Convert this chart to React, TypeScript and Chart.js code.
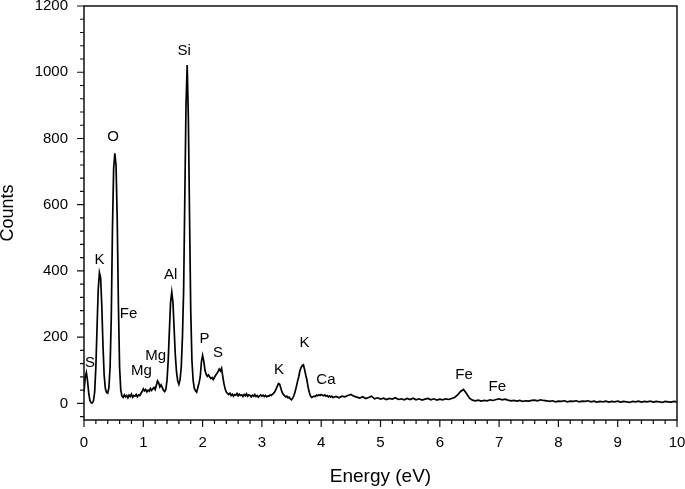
import React, { useEffect, useRef } from 'react';
import { Chart, registerables } from 'chart.js';

Chart.register(...registerables);

// Spectrum: energy (eV) and counts
const energy = [
  0, 0.02, 0.04, 0.06, 0.08, 0.1, 0.12, 0.14, 0.16, 0.18,
  0.2, 0.22, 0.24, 0.26, 0.28, 0.3, 0.32, 0.34, 0.36, 0.38,
  0.4, 0.42, 0.44, 0.46, 0.48, 0.5, 0.52, 0.54, 0.56, 0.58,
  0.6, 0.62, 0.64, 0.66, 0.68, 0.7, 0.72, 0.74, 0.76, 0.78,
  0.8, 0.82, 0.84, 0.86, 0.88, 0.9, 0.92, 0.94, 0.96, 0.98,
  1.0, 1.02, 1.04, 1.06, 1.08, 1.1, 1.12, 1.14, 1.16, 1.18,
  1.2, 1.22, 1.24, 1.26, 1.28, 1.3, 1.32, 1.34, 1.36, 1.38,
  1.4, 1.42, 1.44, 1.46, 1.48, 1.5, 1.52, 1.54, 1.56, 1.58,
  1.6, 1.62, 1.64, 1.66, 1.68, 1.7, 1.72, 1.74, 1.76, 1.78,
  1.8, 1.82, 1.84, 1.86, 1.88, 1.9, 1.92, 1.94, 1.96, 1.98,
  2.0, 2.02, 2.04, 2.06, 2.08, 2.1, 2.12, 2.14, 2.16, 2.18,
  2.2, 2.22, 2.24, 2.26, 2.28, 2.3, 2.32, 2.34, 2.36, 2.38,
  2.4, 2.42, 2.44, 2.46, 2.48, 2.5, 2.52, 2.54, 2.56, 2.58,
  2.6, 2.62, 2.64, 2.66, 2.68, 2.7, 2.72, 2.74, 2.76, 2.78,
  2.8, 2.82, 2.84, 2.86, 2.88, 2.9, 2.92, 2.94, 2.96, 2.98,
  3.0, 3.02, 3.04, 3.06, 3.08, 3.1, 3.12, 3.14, 3.16, 3.18,
  3.2, 3.22, 3.24, 3.26, 3.28, 3.3, 3.32, 3.34, 3.36, 3.38,
  3.4, 3.42, 3.44, 3.46, 3.48, 3.5, 3.52, 3.54, 3.56, 3.58,
  3.6, 3.62, 3.64, 3.66, 3.68, 3.7, 3.72, 3.74, 3.76, 3.78,
  3.8, 3.82, 3.84, 3.86, 3.88, 3.9, 3.92, 3.94, 3.96, 3.98,
  4.0, 4.02, 4.04, 4.06, 4.08, 4.1, 4.12, 4.14, 4.16, 4.18,
  4.2,
  4.25, 4.3, 4.35, 4.4, 4.45, 4.5, 4.55, 4.6, 4.65, 4.7,
  4.75, 4.8, 4.85, 4.9, 4.95, 5.0, 5.05, 5.1, 5.15, 5.2,
  5.25, 5.3, 5.35, 5.4, 5.45, 5.5, 5.55, 5.6, 5.65, 5.7,
  5.75, 5.8, 5.85, 5.9, 5.95, 6.0, 6.05, 6.1, 6.15, 6.2,
  6.25, 6.3, 6.35, 6.4, 6.45, 6.5, 6.55, 6.6, 6.65, 6.7,
  6.75, 6.8, 6.85, 6.9, 6.95, 7.0, 7.05, 7.1, 7.15, 7.2,
  7.25, 7.3, 7.35, 7.4, 7.45, 7.5, 7.55, 7.6, 7.65, 7.7,
  7.75, 7.8, 7.85, 7.9, 7.95, 8.0, 8.05, 8.1, 8.15, 8.2,
  8.25, 8.3, 8.35, 8.4, 8.45, 8.5, 8.55, 8.6, 8.65, 8.7,
  8.75, 8.8, 8.85, 8.9, 8.95, 9.0, 9.05, 9.1, 9.15, 9.2,
  9.25, 9.3, 9.35, 9.4, 9.45, 9.5, 9.55, 9.6, 9.65, 9.7,
  9.75, 9.8, 9.85, 9.9, 9.95, 10.0,
];

const counts = [
  35, 78, 93, 68, 30, 9, 2, 1, 8, 35,
  110, 230, 345, 395, 380, 295, 175, 85, 45, 33,
  31, 48, 110, 260, 530, 710, 755, 720, 560, 300,
  110, 40, 22, 18, 26, 20, 24, 17, 25, 21,
  28, 19, 24, 22, 27, 20, 26, 24, 30, 36,
  44, 38, 42, 35, 40, 37, 45, 39, 44, 48,
  42, 55, 68, 62, 50, 56, 48, 40, 36, 42,
  70, 130, 220, 305, 336, 305, 225, 145, 95, 68,
  58, 72, 110, 200, 340, 620, 900, 1022, 860, 560,
  280, 130, 70, 46, 38, 34, 48, 62, 80, 125,
  145, 128, 100, 88, 82, 86, 80, 75, 78, 72,
  79, 85, 90, 96, 104, 98, 106, 82, 60, 44,
  34, 30, 27, 31, 24, 28, 22, 27, 25, 30,
  23, 28, 24, 26, 21, 27, 23, 29, 22, 26,
  24, 20, 25, 22, 27, 21, 24, 19, 23, 26,
  22, 25, 21, 24, 20, 23, 22, 26, 24, 28,
  31, 36, 44, 52, 60, 58, 46, 34, 27, 24,
  20, 22, 17, 19, 14, 11, 16, 24, 35, 50,
  66, 80, 98, 108, 115, 117, 102, 85, 70, 48,
  33, 22, 18, 20, 22, 21, 25, 23, 26, 24,
  27, 25, 23, 26, 22, 24, 20, 23, 19, 22,
  18,
  21, 17, 22, 20, 24, 27, 22, 19, 16, 20,
  15, 18, 22, 14, 17, 13, 16, 12, 15, 13,
  17, 12, 14, 11, 15, 12, 16, 11, 14, 10,
  13, 15, 11, 14, 10, 13, 11, 14, 12, 15,
  18, 26, 36, 42, 30, 16, 10, 8, 10, 7,
  9, 8, 11, 9, 12, 14, 11, 13, 10, 8,
  9, 7, 9, 6, 8, 7, 9, 10, 8, 11,
  9, 8, 6, 8, 5, 7, 6, 8, 5, 7,
  6, 8, 5, 7, 6, 8, 5, 7, 4, 6,
  5, 7, 4, 6, 5, 7, 4, 6, 5, 3,
  6, 5, 7, 4, 6, 5, 7, 4, 6, 5,
  3, 6, 5, 4, 6, 5,
];

// Peak annotations (element symbol, energy, counts at label centre)
const peakLabels = ['S', 'K', 'O', 'Fe', 'Mg', 'Mg', 'Al', 'Si', 'P', 'S', 'K', 'K', 'Ca', 'Fe', 'Fe'];
const peakLabelEnergy = [0.1, 0.26, 0.49, 0.75, 0.97, 1.21, 1.46, 1.69, 2.03, 2.26, 3.29, 3.72, 4.08, 6.41, 6.97];
const peakLabelCounts = [124, 434, 806, 271, 98, 143, 387, 1066, 195, 152, 100, 182, 72, 85, 49];

// Axes
const xTickValues = [0, 1, 2, 3, 4, 5, 6, 7, 8, 9, 10];
const yTickValues = [0, 200, 400, 600, 800, 1000, 1200];
const xMin = 0;
const xMax = 10;
const yMin = -50;
const yMax = 1200;
const xMinorStep = 0.2;
const yMinorStep = 40;

const FONT = "'Liberation Sans', Arial, Helvetica, sans-serif";

export default function App() {
  const ref = useRef<HTMLCanvasElement>(null);

  useEffect(() => {
    const canvas = ref.current;
    if (!canvas) return;

    const points = energy.map((e, i) => ({ x: e, y: counts[i] }));

    const framePlugin = {
      id: 'frameTicks',
      afterDatasetsDraw(chart: any) {
        const { ctx, chartArea: a, scales } = chart;
        const xs = scales.x;
        const ys = scales.y;
        ctx.save();
        ctx.strokeStyle = '#111';
        ctx.lineWidth = 1.2;
        ctx.beginPath();
        const nx = Math.round((xMax - xMin) / xMinorStep);
        for (let i = 0; i <= nx; i++) {
          const v = xMin + i * xMinorStep;
          const major = Math.abs(v - Math.round(v)) < 1e-6;
          const px = xs.getPixelForValue(v);
          ctx.moveTo(px, a.bottom);
          ctx.lineTo(px, a.bottom + (major ? 7 : 4));
        }
        for (let v = Math.ceil(yMin / yMinorStep) * yMinorStep; v <= yMax; v += yMinorStep) {
          const major = v % 200 === 0;
          const py = ys.getPixelForValue(v);
          ctx.moveTo(a.left, py);
          ctx.lineTo(a.left - (major ? 7 : 4), py);
        }
        ctx.stroke();
        ctx.lineWidth = 1.5;
        ctx.strokeRect(a.left, a.top, a.right - a.left, a.bottom - a.top);
        ctx.fillStyle = '#000';
        ctx.font = `15px ${FONT}`;
        ctx.textAlign = 'center';
        ctx.textBaseline = 'middle';
        peakLabels.forEach((t, i) => {
          ctx.fillText(t, xs.getPixelForValue(peakLabelEnergy[i]), ys.getPixelForValue(peakLabelCounts[i]));
        });
        ctx.restore();
      },
    };

    const chart = new Chart(canvas, {
      type: 'line',
      data: {
        datasets: [
          {
            data: points,
            borderColor: '#000',
            borderWidth: 1.7,
            pointRadius: 0,
            fill: false,
            tension: 0,
          },
        ],
      },
      options: {
        animation: false,
        responsive: false,
        devicePixelRatio: 1,
        layout: { padding: { left: 0, right: 8, top: 6, bottom: 0 } },
        plugins: { legend: { display: false }, tooltip: { enabled: false } },
        scales: {
          x: {
            type: 'linear',
            min: xMin,
            max: xMax,
            afterBuildTicks: (s: any) => {
              s.ticks = xTickValues.map((v) => ({ value: v }));
            },
            afterFit: (s: any) => {
              s.height = 69;
              s.paddingLeft = 0;
              s.paddingRight = 0;
            },
            grid: { display: false, drawTicks: false },
            border: { display: false },
            ticks: {
              color: '#000',
              font: { family: FONT, size: 15 },
              padding: 14,
              maxRotation: 0,
              autoSkip: false,
              callback: (v: any) => String(v),
            },
            title: {
              display: true,
              text: 'Energy (eV)',
              color: '#000',
              font: { family: FONT, size: 19 },
              padding: { top: 0, bottom: 1 },
            },
          },
          y: {
            type: 'linear',
            min: yMin,
            max: yMax,
            afterBuildTicks: (s: any) => {
              s.ticks = yTickValues.map((v) => ({ value: v }));
            },
            afterFit: (s: any) => {
              s.width = 84;
              s.paddingTop = 0;
              s.paddingBottom = 0;
            },
            grid: { display: false, drawTicks: false },
            border: { display: false },
            ticks: {
              color: '#000',
              font: { family: FONT, size: 15 },
              padding: 16,
              autoSkip: false,
              callback: (v: any) => String(v),
            },
            title: {
              display: true,
              text: 'Counts',
              color: '#000',
              font: { family: FONT, size: 18, lineHeight: 0.92 },
              padding: { top: 0, bottom: 0 },
            },
          },
        },
      },
      plugins: [framePlugin],
    } as any);

    return () => chart.destroy();
  }, []);

  return (
    <div style={{ position: 'absolute', left: 0, top: 0, width: 685, height: 489, background: '#fff' }}>
      <canvas ref={ref} width={685} height={489} style={{ display: 'block' }} />
    </div>
  );
}
